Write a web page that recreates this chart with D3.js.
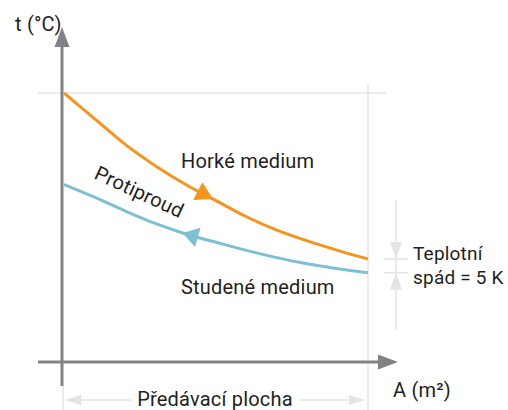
<!DOCTYPE html>
<html>
<head>
<meta charset="utf-8">
<script src="https://cdn.jsdelivr.net/npm/d3@7"></script>
<style>
  body { margin: 0; background: #fff; }
  text { font-family: Roboto, "Open Sans", sans-serif; fill: #231f20; letter-spacing: 0.2px; }
</style>
</head>
<body>
<svg width="508" height="410"></svg>
<script>
// plocha A (relativni jednotky) a teploty obou medii
let area = [0, 1, 2, 3, 4, 5, 6, 7, 8, 9, 10];
let hot = [100, 90.5, 81, 73, 66, 60, 54, 49, 45, 41.5, 38.3];
let cold = [66, 61.3, 56.2, 51.5, 47.6, 44.5, 41.5, 38.8, 36.5, 34.7, 33.2];
let labels = {
    yAxis: 't (°C)', xAxis: 'A (m²)', hot: 'Horké medium', cold: 'Studené medium',
    flow: 'Protiproud', drop: ['Teplotní', 'spád = 5 K'], span: 'Předávací plocha'
};

let svg = d3.select('svg');

let grey = '#808285';
let light = '#e3e4e5';
let orange = '#f7941d';
let blue = '#7dbfd3';
let fs = 20;

let xScale = d3.scaleLinear().domain([0, 10]).range([64, 368]);
let yScale = d3.scaleLinear().domain([0, 100]).range([362, 93]);

// svetle vodici cary
svg.append('line')
    .attr('x1', 38).attr('x2', 386)
    .attr('y1', yScale(100)).attr('y2', yScale(100))
    .attr('stroke', light).attr('stroke-width', 1.5);
svg.append('line')
    .attr('x1', xScale(10)).attr('x2', xScale(10))
    .attr('y1', 85).attr('y2', 410)
    .attr('stroke', light).attr('stroke-width', 1.5);
svg.append('line')
    .attr('x1', 63).attr('x2', 63)
    .attr('y1', 386).attr('y2', 410)
    .attr('stroke', light).attr('stroke-width', 1.5);

// osy se sipkami
let x0 = xScale(0) - 2;
let y0 = yScale(0);
svg.append('line')
    .attr('x1', 38).attr('x2', 380)
    .attr('y1', y0).attr('y2', y0)
    .attr('stroke', grey).attr('stroke-width', 3);
svg.append('path')
    .attr('d', `M398,${y0} L378,${y0 - 7.5} L378,${y0 + 7.5} Z`)
    .attr('fill', grey);
svg.append('line')
    .attr('x1', x0).attr('x2', x0)
    .attr('y1', 386).attr('y2', 45)
    .attr('stroke', grey).attr('stroke-width', 3);
svg.append('path')
    .attr('d', `M${x0},27 L${x0 - 7.5},47 L${x0 + 7.5},47 Z`)
    .attr('fill', grey);

// krivky
let line = d3.line().curve(d3.curveMonotoneX);
let hotPath = svg.append('path')
    .attr('d', line(area.map((a, i) => [xScale(a), yScale(hot[i])])))
    .attr('fill', 'none').attr('stroke', orange).attr('stroke-width', 3);
let coldPath = svg.append('path')
    .attr('d', line(area.map((a, i) => [xScale(a), yScale(cold[i])])))
    .attr('fill', 'none').attr('stroke', blue).attr('stroke-width', 3);

// bod na krivce pro dane x
let pointAtX = (path, x) => {
    let node = path.node();
    let lo = 0, hi = node.getTotalLength();
    for (let k = 0; k < 30; k++) {
        let mid = (lo + hi) / 2;
        if (node.getPointAtLength(mid).x < x) lo = mid; else hi = mid;
    }
    return node.getPointAtLength(lo);
};

let arrowHead = (path, tipX, baseX, color) => {
    let tip = pointAtX(path, tipX);
    let base = pointAtX(path, baseX);
    let dx = tip.x - base.x, dy = tip.y - base.y;
    let len = Math.hypot(dx, dy);
    let nx = -dy / len * 10, ny = dx / len * 10;
    svg.append('path')
        .attr('d', `M${tip.x},${tip.y} L${base.x + nx},${base.y + ny} L${base.x - nx},${base.y - ny} Z`)
        .attr('fill', color);
};
arrowHead(hotPath, xScale(4.9), xScale(4.4), orange);
arrowHead(coldPath, xScale(3.9), xScale(4.4), blue);

// teplotni spad na konci
let yh = yScale(hot[hot.length - 1]);
let yc = yScale(cold[cold.length - 1]);
let dx = 396;
svg.append('line')
    .attr('x1', dx).attr('x2', dx).attr('y1', 200).attr('y2', 330)
    .attr('stroke', light).attr('stroke-width', 1.5);
[yh, yc].forEach(y => {
    svg.append('line')
        .attr('x1', 384).attr('x2', 408).attr('y1', y).attr('y2', y)
        .attr('stroke', light).attr('stroke-width', 1.5);
});
svg.append('path')
    .attr('d', `M${dx},${yh} L${dx - 6},${yh - 17} L${dx + 6},${yh - 17} Z`)
    .attr('fill', light);
svg.append('path')
    .attr('d', `M${dx},${yc} L${dx - 6},${yc + 17} L${dx + 6},${yc + 17} Z`)
    .attr('fill', light);

// predavaci plocha
let sy = 400;
let sx1 = xScale(0) - 1, sx2 = xScale(10) - 1;
svg.append('line')
    .attr('x1', sx1 + 4).attr('x2', sx2 - 4).attr('y1', sy).attr('y2', sy)
    .attr('stroke', light).attr('stroke-width', 1.5);
svg.append('path')
    .attr('d', `M${sx1 + 2},${sy} L${sx1 + 18},${sy - 5} L${sx1 + 18},${sy + 5} Z`)
    .attr('fill', light);
svg.append('path')
    .attr('d', `M${sx2 - 2},${sy} L${sx2 - 18},${sy - 5} L${sx2 - 18},${sy + 5} Z`)
    .attr('fill', light);
let spanText = svg.append('text')
    .attr('x', (sx1 + sx2) / 2).attr('y', 406)
    .attr('text-anchor', 'middle').attr('font-size', fs)
    .text(labels.span);
let bb = spanText.node().getBBox();
svg.insert('rect', 'text')
    .attr('x', bb.x - 6).attr('y', sy - 3).attr('width', bb.width + 12).attr('height', 6)
    .attr('fill', '#fff');

// popisky
svg.append('text').attr('x', 15).attr('y', 31).attr('font-size', fs).text(labels.yAxis);
svg.append('text').attr('x', 393).attr('y', 397).attr('font-size', fs).text(labels.xAxis);
svg.append('text').attr('x', 181).attr('y', 168).attr('font-size', fs).text(labels.hot);
svg.append('text').attr('x', 181).attr('y', 294).attr('font-size', fs).text(labels.cold);
svg.append('text')
    .attr('transform', 'translate(93,178) rotate(25)')
    .attr('font-size', fs).text(labels.flow);
svg.append('text').attr('x', 413).attr('y', 260).attr('font-size', 19).text(labels.drop[0]);
svg.append('text').attr('x', 413).attr('y', 284).attr('font-size', 19).text(labels.drop[1]);
</script>
</body>
</html>
